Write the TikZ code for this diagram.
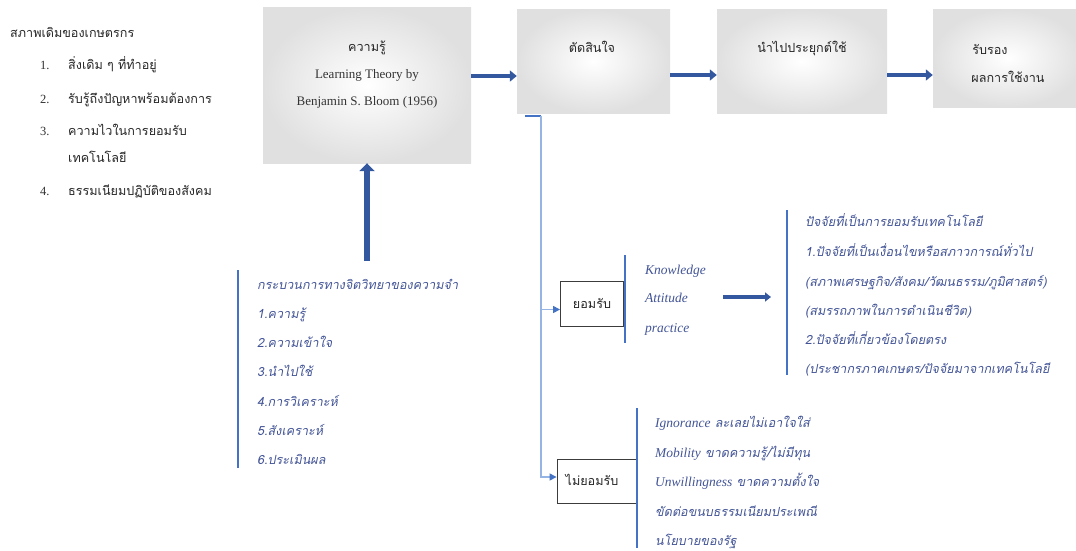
\documentclass[tikz,border=0pt]{standalone}
\usepackage{fontspec}
\setmainfont{Liberation Serif}
\newfontfamily\thai[Script=Thai]{Loma}
\newfontfamily\thit[Script=Thai,FakeSlant=0.2]{Loma}
\usetikzlibrary{arrows.meta,calc}
\definecolor{boxgray}{RGB}{224,224,224}
\definecolor{txtblue}{RGB}{66,84,150}
\definecolor{linebl}{RGB}{68,114,196}
\definecolor{connl}{RGB}{150,180,228}
\definecolor{blk}{RGB}{52,88,160}
\definecolor{edgeg}{RGB}{60,60,60}
\tikzset{
  gbox/.style={shading=radial, inner color=white, outer color=boxgray, draw=none, inner sep=0},
  wbox/.style={draw=edgeg, line width=0.9pt, fill=white, inner sep=0},
  th/.style={font=\thai\fontsize{12.6}{14}\selectfont, inner sep=0, text=black!85},
  ln/.style={font=\fontsize{13}{15}\selectfont, inner sep=0, text=black!80},
  bt/.style={font=\thit\fontsize{12.6}{14}\selectfont, inner sep=0, text=txtblue, anchor=base west},
  bl/.style={font=\itshape\fontsize{13.5}{15}\selectfont, inner sep=0, text=txtblue},
  la/.style={font=\rmfamily\itshape\fontsize{13.5}{15}\selectfont},
  bracket/.style={draw=linebl, line width=1.3pt},
  conn/.style={draw=connl, line width=1.4pt},
  connarrow/.style={conn, -{Triangle[length=7pt,width=7pt,color=linebl]}},
  blockarr/.style={draw=blk, line width=4.5pt, -{Triangle[length=7pt,width=11pt]}},
}
\newcommand{\latit}[1]{{\rmfamily\itshape\fontsize{13.5}{15}\selectfont #1}}
\begin{document}
\begin{tikzpicture}[x=1pt,y=-1pt]
\useasboundingbox (0,0) rectangle (1076,550);

% left list
\node[th, anchor=base west] (t0) at (10,37) {สภาพเดิมของเกษตรกร};
\node[ln, anchor=base west, font=\fontsize{12.5}{14}\selectfont] (n1) at (40,69) {1.};
\node[th, anchor=base west] (l1) at (68,69) {สิ่งเดิม ๆ ที่ทำอยู่};
\node[ln, anchor=base west, font=\fontsize{12.5}{14}\selectfont] (n2) at (40,103) {2.};
\node[th, anchor=base west] (l2) at (68,103) {รับรู้ถึงปัญหาพร้อมต้องการ};
\node[ln, anchor=base west, font=\fontsize{12.5}{14}\selectfont] (n3) at (40,135) {3.};
\node[th, anchor=base west] (l3) at (68,135) {ความไวในการยอมรับ};
\node[th, anchor=base west] (l3b) at (68,162) {เทคโนโลยี};
\node[ln, anchor=base west, font=\fontsize{12.5}{14}\selectfont] (n4) at (40,195) {4.};
\node[th, anchor=base west] (l4) at (68,195) {ธรรมเนียมปฏิบัติของสังคม};

% top boxes
\node[gbox, minimum width=208pt, minimum height=156pt] (kn) at (367,85) {};
\node[th, anchor=base] (kn1) at (367,51) {ความรู้};
\node[ln, anchor=base] (kn2) at (367,78) {Learning Theory by};
\node[ln, anchor=base] (kn3) at (367,105) {Benjamin S. Bloom (1956)};

\node[gbox, minimum width=153pt, minimum height=104pt] (dec) at (593.5,61) {};
\node[th, anchor=base] (dect) at (592,52) {ตัดสินใจ};

\node[gbox, minimum width=170pt, minimum height=104pt] (app) at (802,61) {};
\node[th, anchor=base] (appt) at (802,52) {นำไปประยุกต์ใช้};

\node[gbox, minimum width=150pt, minimum height=98pt] (cer) at (1008,58) {};
\node[th, anchor=base] (cer1) at (990,54) {รับรอง};
\node[th, anchor=base] (cer2) at (1008,82) {ผลการใช้งาน};

\draw[blockarr] (kn.east |- 0,76) -- (dec.west |- 0,76);
\draw[blockarr] (dec.east |- 0,75) -- (app.west |- 0,75);
\draw[blockarr] (app.east |- 0,75) -- (cer.west |- 0,75);

% up arrow
\coordinate (upstart) at (367,261);
\draw[draw=blk, line width=6pt, -{Triangle[length=8pt,width=15pt]}] (upstart) -- (kn.south);

% process list
\draw[bracket] (238,270) -- (238,468);
\node[bt] (p0) at (257,289) {กระบวนการทางจิตวิทยาของความจำ};
\node[bt] (p1) at (257,318.3) {1.ความรู้};
\node[bt] (p2) at (257,347.6) {2.ความเข้าใจ};
\node[bt] (p3) at (257,376.9) {3.นำไปใช้};
\node[bt] (p4) at (257,406.2) {4.การวิเคราะห์};
\node[bt] (p5) at (257,435.5) {5.สังเคราะห์};
\node[bt] (p6) at (257,464.8) {6.ประเมินผล};

% decision branches
\node[wbox, minimum width=63pt, minimum height=45pt] (acc) at (592,303.5) {};
\node[th, anchor=base] (acct) at (592,308) {ยอมรับ};
\node[wbox, minimum width=80pt, minimum height=44pt] (rej) at (597,481) {};
\node[th, anchor=base] (rejt) at (592,485) {ไม่ยอมรับ};

\coordinate (j0) at (525,116);
\coordinate (j) at (541,116);
\draw[draw=linebl, line width=1.2pt] (j0) -- (j);
\draw[connarrow] (j) |- ($(acc.west)+(0,6)$);
\draw[connarrow] (j) |- ($(rej.west)+(0,-4)$);

% KAP
\draw[bracket] (625,255) -- (625,343);
\node[bl, anchor=base west] (k1) at (645,274) {Knowledge};
\node[bl, anchor=base west] (k2) at (645,302) {Attitude};
\node[bl, anchor=base west] (k3) at (645,332) {practice};
\coordinate (fa0) at (723,297);
\coordinate (fa1) at (771,297);
\draw[draw=blk, line width=3.5pt, -{Triangle[length=6pt,width=9pt]}] (fa0) -- (fa1);

% factors
\draw[bracket] (787,210) -- (787,375);
\node[bt] (f0) at (805,226) {ปัจจัยที่เป็นการยอมรับเทคโนโลยี};
\node[bt] (f1) at (805,256) {1.ปัจจัยที่เป็นเงื่อนไขหรือสภาวการณ์ทั่วไป};
\node[bt] (f2) at (805,286) {(สภาพเศรษฐกิจ/สังคม/วัฒนธรรม/ภูมิศาสตร์)};
\node[bt] (f3) at (805,315) {(สมรรถภาพในการดำเนินชีวิต)};
\node[bt] (f4) at (805,344) {2.ปัจจัยที่เกี่ยวข้องโดยตรง};
\node[bt] (f5) at (805,373) {(ประชากรภาคเกษตร/ปัจจัยมาจากเทคโนโลยี};

% reject reasons
\draw[bracket] (637,408) -- (637,548);
\node[bt] (r1) at (655,427) {\latit{Ignorance} ละเลยไม่เอาใจใส่};
\node[bt] (r2) at (655,457) {\latit{Mobility} ขาดความรู้/ไม่มีทุน};
\node[bt] (r3) at (655,486) {\latit{Unwillingness} ขาดความตั้งใจ};
\node[bt] (r4) at (655,516) {ขัดต่อขนบธรรมเนียมประเพณี};
\node[bt] (r5) at (655,545) {นโยบายของรัฐ};
\end{tikzpicture}
\end{document}
